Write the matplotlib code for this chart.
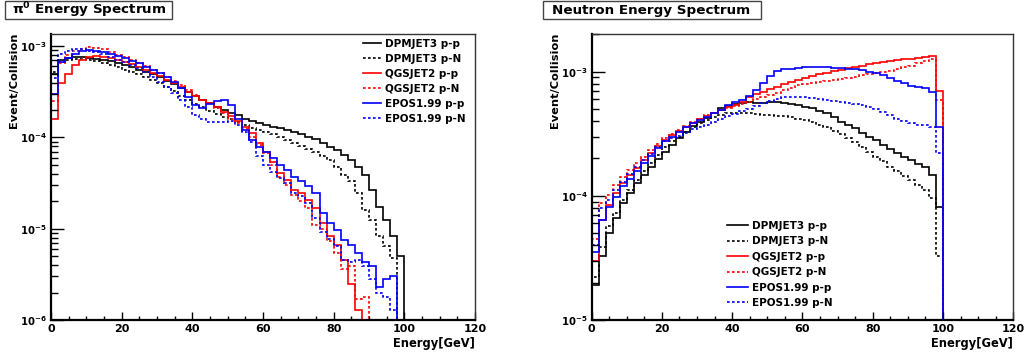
import numpy as np
import matplotlib
matplotlib.use('Agg')
import matplotlib.pyplot as plt
from matplotlib.lines import Line2D
from matplotlib.patches import Rectangle
from matplotlib.ticker import MultipleLocator, LogLocator, NullFormatter

plt.rcParams['font.family'] = 'DejaVu Sans'
plt.rcParams['font.weight'] = 'bold'
plt.rcParams['mathtext.fontset'] = 'dejavusans'
plt.rcParams['mathtext.default'] = 'bf'

## Data: 2 GeV bins from 0 to 100 GeV, values in units of 1e-3 event/collision
E_EDGES = np.arange(0, 122, 2)          # 0..120 GeV, bins above 100 are empty

labels = ['DPMJET3 p-p', 'DPMJET3 p-N', 'QGSJET2 p-p',
          'QGSJET2 p-N', 'EPOS1.99 p-p', 'EPOS1.99 p-N']

# pi0 spectrum
pi0_dpm_pp = [0.50, 0.70, 0.75, 0.76, 0.76, 0.75, 0.73, 0.71, 0.69, 0.66,
              0.62, 0.585, 0.555, 0.524, 0.49, 0.455, 0.42, 0.385, 0.35, 0.316,
              0.284, 0.257, 0.236, 0.217, 0.200, 0.187, 0.175, 0.161, 0.152, 0.143,
              0.137, 0.131, 0.126, 0.121, 0.115, 0.109, 0.102, 0.096, 0.088, 0.079,
              0.073, 0.064, 0.056, 0.048, 0.039, 0.0267, 0.0175, 0.0125, 0.0083, 0.0050]
pi0_dpm_pn = [0.52, 0.67, 0.70, 0.72, 0.72, 0.71, 0.69, 0.66, 0.62, 0.585,
              0.555, 0.524, 0.495, 0.462, 0.425, 0.391, 0.353, 0.32, 0.284, 0.257,
              0.232, 0.214, 0.197, 0.181, 0.169, 0.158, 0.148, 0.137, 0.128, 0.121,
              0.115, 0.108, 0.100, 0.094, 0.086, 0.080, 0.075, 0.069, 0.062, 0.056,
              0.048, 0.039, 0.033, 0.0245, 0.016, 0.0125, 0.0083, 0.0064, 0.0048, 0.0]
pi0_qgs_pp = [0.16, 0.40, 0.50, 0.62, 0.70, 0.765, 0.78, 0.765, 0.745, 0.71,
              0.674, 0.635, 0.594, 0.555, 0.51, 0.47, 0.43, 0.391, 0.353, 0.316,
              0.284, 0.26, 0.236, 0.217, 0.19, 0.172, 0.152, 0.131, 0.111, 0.086,
              0.069, 0.054, 0.0406, 0.0343, 0.0267, 0.0245, 0.0207, 0.017, 0.0115, 0.0083,
              0.0066, 0.0046, 0.0025, 0.0013, 0, 0, 0, 0, 0, 0]
pi0_qgs_pn = [0.25, 0.65, 0.80, 0.89, 0.94, 0.97, 0.96, 0.92, 0.867, 0.81,
              0.765, 0.71, 0.66, 0.605, 0.555, 0.51, 0.462, 0.42, 0.375, 0.33,
              0.29, 0.26, 0.236, 0.208, 0.184, 0.161, 0.143, 0.123, 0.102, 0.083,
              0.067, 0.050, 0.037, 0.0303, 0.0236, 0.020, 0.017, 0.011, 0.010, 0.0073,
              0.0054, 0.0036, 0.0039, 0.0017, 0.0018, 0, 0, 0, 0, 0]
pi0_epos_pp = [0.30, 0.67, 0.75, 0.83, 0.89, 0.90, 0.89, 0.86, 0.82, 0.78,
               0.74, 0.69, 0.647, 0.594, 0.547, 0.503, 0.455, 0.41, 0.345, 0.279,
               0.226, 0.208, 0.232, 0.252, 0.26, 0.226, 0.161, 0.121, 0.094, 0.079,
               0.070, 0.059, 0.050, 0.044, 0.037, 0.033, 0.0295, 0.0245, 0.0148, 0.0115,
               0.0098, 0.0076, 0.0066, 0.0054, 0.0043, 0.0039, 0.0023, 0.0028, 0.0030, 0]
pi0_epos_pn = [0.45, 0.82, 0.89, 0.92, 0.92, 0.89, 0.86, 0.82, 0.765, 0.71,
               0.67, 0.625, 0.58, 0.524, 0.462, 0.41, 0.359, 0.31, 0.257, 0.214,
               0.176, 0.158, 0.149, 0.148, 0.148, 0.152, 0.137, 0.116, 0.090, 0.062,
               0.050, 0.0423, 0.0358, 0.0316, 0.0245, 0.0226, 0.019, 0.013, 0.0093, 0.0078,
               0.0064, 0.0046, 0.0043, 0.0046, 0.0039, 0.0028, 0.0020, 0.0018, 0.0013, 0]

# neutron spectrum
n_dpm_pp = [0.019, 0.0325, 0.050, 0.066, 0.087, 0.105, 0.126, 0.148, 0.172, 0.197,
            0.227, 0.257, 0.291, 0.329, 0.365, 0.396, 0.427, 0.468, 0.507, 0.533,
            0.550, 0.560, 0.567, 0.563, 0.556, 0.570, 0.567, 0.556, 0.550, 0.536,
            0.523, 0.507, 0.486, 0.462, 0.430, 0.396, 0.373, 0.350, 0.323, 0.300,
            0.279, 0.257, 0.237, 0.220, 0.205, 0.193, 0.181, 0.170, 0.148, 0.082]
n_dpm_pn = [0.022, 0.039, 0.0567, 0.0726, 0.0928, 0.112, 0.134, 0.157, 0.183, 0.213,
            0.246, 0.274, 0.300, 0.329, 0.357, 0.384, 0.409, 0.435, 0.448, 0.462,
            0.468, 0.468, 0.462, 0.456, 0.448, 0.445, 0.440, 0.440, 0.430, 0.419,
            0.409, 0.391, 0.373, 0.357, 0.335, 0.313, 0.291, 0.269, 0.249, 0.227,
            0.207, 0.189, 0.172, 0.157, 0.145, 0.134, 0.123, 0.112, 0.096, 0.0325]
n_qgs_pp = [0.030, 0.064, 0.085, 0.105, 0.126, 0.148, 0.167, 0.193, 0.220, 0.252,
            0.282, 0.310, 0.335, 0.361, 0.389, 0.414, 0.440, 0.468, 0.492, 0.518,
            0.540, 0.574, 0.622, 0.661, 0.690, 0.720, 0.757, 0.791, 0.826, 0.857,
            0.890, 0.923, 0.952, 0.980, 1.01, 1.04, 1.07, 1.10, 1.12, 1.15,
            1.17, 1.19, 1.22, 1.24, 1.26, 1.27, 1.29, 1.31, 1.34, 0.70]
n_qgs_pn = [0.045, 0.0872, 0.102, 0.123, 0.143, 0.162, 0.183, 0.207, 0.234, 0.262,
            0.291, 0.316, 0.340, 0.365, 0.394, 0.419, 0.445, 0.468, 0.492, 0.510,
            0.530, 0.550, 0.574, 0.600, 0.629, 0.653, 0.678, 0.712, 0.744, 0.776,
            0.796, 0.816, 0.831, 0.847, 0.862, 0.878, 0.895, 0.912, 0.934, 0.952,
            0.970, 0.994, 1.02, 1.05, 1.08, 1.12, 1.167, 1.21, 1.26, 0.592]
n_epos_pp = [0.035, 0.064, 0.082, 0.0986, 0.119, 0.136, 0.157, 0.183, 0.209, 0.241,
             0.274, 0.300, 0.329, 0.357, 0.384, 0.409, 0.435, 0.462, 0.492, 0.536,
             0.570, 0.592, 0.637, 0.712, 0.806, 0.923, 1.02, 1.045, 1.057, 1.07,
             1.08, 1.097, 1.097, 1.08, 1.077, 1.064, 1.057, 1.045, 1.031, 1.00,
             0.970, 0.934, 0.890, 0.847, 0.806, 0.767, 0.748, 0.739, 0.690, 0.361]
n_epos_pn = [0.040, 0.080, 0.0928, 0.112, 0.130, 0.150, 0.170, 0.193, 0.217, 0.246,
             0.274, 0.291, 0.304, 0.323, 0.344, 0.357, 0.373, 0.394, 0.419, 0.440,
             0.456, 0.480, 0.504, 0.530, 0.556, 0.584, 0.607, 0.622, 0.629, 0.629,
             0.629, 0.614, 0.607, 0.592, 0.584, 0.574, 0.563, 0.550, 0.536, 0.518,
             0.498, 0.474, 0.445, 0.419, 0.399, 0.384, 0.375, 0.370, 0.357, 0.220]

pi0_series = [pi0_dpm_pp, pi0_dpm_pn, pi0_qgs_pp, pi0_qgs_pn, pi0_epos_pp, pi0_epos_pn]
n_series = [n_dpm_pp, n_dpm_pn, n_qgs_pp, n_qgs_pn, n_epos_pp, n_epos_pn]

pi0_yticks = [1e-6, 1e-5, 1e-4, 1e-3]
pi0_yticklabels = [r'$10^{-6}$', r'$10^{-5}$', r'$10^{-4}$', r'$10^{-3}$']
n_yticks = [1e-5, 1e-4, 1e-3]
n_yticklabels = [r'$10^{-5}$', r'$10^{-4}$', r'$10^{-3}$']
xticks = [0, 20, 40, 60, 80, 100, 120]

## Styles
colors = ['black', 'black', 'red', 'red', 'blue', 'blue']
DASH = (0, (1.6, 1.4))
styles = ['-', DASH, '-', DASH, '-', DASH]
LW = 1.2


def draw_panel(ax, series, ylo, yhi, yticks, yticklabels):
    for vals, c, ls in zip(series, colors, styles):
        v = np.concatenate([np.array(vals) * 1e-3, np.zeros(10)])
        v = np.where(v > 0, v, ylo)          # empty bins sit on the axis like ROOT
        ax.stairs(v, E_EDGES, baseline=ylo, color=c, linestyle=ls, lw=LW)
    ax.set_yscale('log')
    ax.set_xlim(0, 120)
    ax.set_ylim(ylo, yhi)
    ax.set_xticks(xticks)
    ax.set_xticklabels([str(t) for t in xticks])
    ax.xaxis.set_minor_locator(MultipleLocator(5))
    ax.set_yticks(yticks)
    ax.set_yticklabels(yticklabels)
    ax.yaxis.set_minor_locator(LogLocator(base=10, subs=np.arange(2, 10)))
    ax.yaxis.set_minor_formatter(NullFormatter())
    ax.tick_params(which='both', direction='in', top=False, right=False, width=1.0)
    ax.tick_params(axis='x', which='major', length=5.8, pad=3, labelsize=8)
    ax.tick_params(axis='x', which='minor', length=3.0)
    ax.tick_params(axis='y', which='major', length=9.5, pad=3, labelsize=7.3)
    ax.tick_params(axis='y', which='minor', length=5.0)
    for s in ['left', 'bottom']:
        ax.spines[s].set_linewidth(1.6)
    for s in ['top', 'right']:
        ax.spines[s].set_linewidth(1.0)
        ax.spines[s].set_color('#333333')


fig = plt.figure(figsize=(10.28, 3.58), dpi=100)
W, H = 1028.0, 358.0

ax1 = fig.add_axes([51 / W, 1 - 320 / H, 424 / W, 286 / H])
draw_panel(ax1, pi0_series, 1e-6, 1.36e-3, pi0_yticks, pi0_yticklabels)
ax2 = fig.add_axes([591.5 / W, 1 - 320 / H, 421.8 / W, 286 / H])
draw_panel(ax2, n_series, 1e-5, 2.01e-3, n_yticks, n_yticklabels)

handles = [Line2D([], [], color=c, linestyle=ls, lw=LW) for c, ls in zip(colors, styles)]
ax1.legend(handles, labels, loc='upper left', bbox_to_anchor=(363 / W, 1 - 39 / H),
           bbox_transform=fig.transFigure, frameon=False, fontsize=7.5,
           handlelength=1.75, handletextpad=0.4, labelspacing=0.48,
           borderpad=0, borderaxespad=0)
ax2.legend(handles, labels, loc='upper left', bbox_to_anchor=(727 / W, 1 - 221 / H),
           bbox_transform=fig.transFigure, frameon=False, fontsize=7.5,
           handlelength=2.0, handletextpad=0.4, labelspacing=0.52,
           borderpad=0, borderaxespad=0)

# axis titles (ROOT style: at the end of the axis)
for xr in [475, 1013]:
    fig.text(xr / W, 1 - 337 / H, 'Energy[GeV]', ha='right', va='top', fontsize=8.3)
for xl in [14, 555]:
    fig.text(xl / W, 1 - 32 / H, 'Event/Collision', ha='center', va='top',
             rotation=90, fontsize=8.2)

# title boxes
fig.add_artist(Rectangle((5 / W, 1 - 19 / H), 167 / W, 18 / H, transform=fig.transFigure,
                         fill=False, ec='#444444', lw=1.0))
fig.text(12 / W, 1 - 10.5 / H, r'$\pi^{0}$ Energy Spectrum', ha='left', va='center',
         fontsize=9.7)
fig.add_artist(Rectangle((543 / W, 1 - 19 / H), 218 / W, 18 / H, transform=fig.transFigure,
                         fill=False, ec='#444444', lw=1.0))
fig.text(552 / W, 1 - 10.5 / H, 'Neutron Energy Spectrum', ha='left', va='center',
         fontsize=9.7)

fig.savefig('out.png', dpi=100)
